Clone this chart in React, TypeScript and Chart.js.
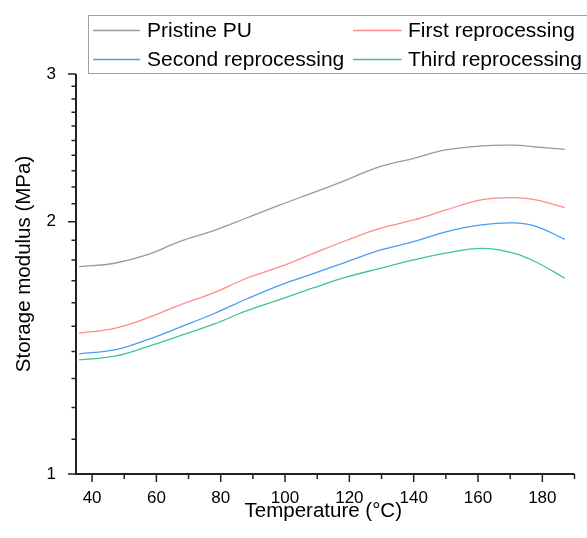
import React, { useEffect, useRef } from "react";
import { Chart, registerables } from "chart.js";

Chart.register(...registerables);

const temps = [36, 47, 57, 67, 78, 88, 98.5, 109, 119, 129.5, 140, 150, 161, 171, 178, 187];
const pristine = [1.767, 1.784, 1.825, 1.892, 1.952, 2.02, 2.094, 2.167, 2.242, 2.326, 2.38, 2.435, 2.462, 2.467, 2.455, 2.439];
const firstRep = [1.472, 1.492, 1.534, 1.589, 1.646, 1.712, 1.767, 1.834, 1.899, 1.963, 2.009, 2.065, 2.123, 2.136, 2.123, 2.078];
const secondRep = [1.391, 1.406, 1.445, 1.495, 1.554, 1.617, 1.68, 1.735, 1.79, 1.849, 1.893, 1.945, 1.982, 1.993, 1.974, 1.905];
const thirdRep = [1.368, 1.382, 1.418, 1.46, 1.51, 1.565, 1.615, 1.668, 1.717, 1.759, 1.8, 1.834, 1.858, 1.834, 1.79, 1.712];

const seriesNames = ["Pristine PU", "First reprocessing", "Second reprocessing", "Third reprocessing"];
const seriesColors = ["#9a9a9a", "#ff8c8c", "#4b9cf0", "#3fc495"];
const seriesValues = [pristine, firstRep, secondRep, thirdRep];

const xMajor = [40, 60, 80, 100, 120, 140, 160, 180];
const xMinor = [50, 70, 90, 110, 130, 150, 170, 190];
const yMajor = [1, 2, 3];
const yMinor = [1.1, 1.2, 1.3, 1.4, 1.5, 1.6, 1.7, 1.8, 1.9, 2.1, 2.2, 2.3, 2.4, 2.5, 2.6, 2.7, 2.8, 2.9];

const xTitle = "Temperature (°C)";
const yTitle = "Storage modulus (MPa)";
const FONT = "Arial, 'Liberation Sans', sans-serif";

const decorPlugin = {
  id: "decor",
  afterDraw(chart: any) {
    const ctx = chart.ctx;
    const xs = chart.scales.x;
    const ys = chart.scales.y;
    const a = chart.chartArea;
    ctx.save();
    ctx.strokeStyle = "#222";
    ctx.lineWidth = 2;
    ctx.beginPath();
    ctx.moveTo(a.left, a.top);
    ctx.lineTo(a.left, a.bottom);
    ctx.moveTo(a.left - 1, a.bottom);
    ctx.lineTo(a.right, a.bottom);
    ctx.stroke();
    ctx.lineWidth = 1.5;
    ctx.beginPath();
    for (const v of yMajor) {
      const p = ys.getPixelForValue(v);
      ctx.moveTo(a.left - 8, p);
      ctx.lineTo(a.left, p);
    }
    for (const v of yMinor) {
      const p = ys.getPixelForValue(v);
      ctx.moveTo(a.left - 4.5, p);
      ctx.lineTo(a.left, p);
    }
    for (const v of xMajor) {
      const p = xs.getPixelForValue(v);
      ctx.moveTo(p, a.bottom);
      ctx.lineTo(p, a.bottom + 8);
    }
    for (const v of xMinor) {
      const p = xs.getPixelForValue(v);
      ctx.moveTo(p, a.bottom);
      ctx.lineTo(p, a.bottom + 5);
    }
    ctx.stroke();
    ctx.fillStyle = "#000";
    ctx.font = `20.5px ${FONT}`;
    ctx.textAlign = "center";
    ctx.textBaseline = "middle";
    ctx.fillText(xTitle, (a.left + a.right) / 2 - 2, 511);
    ctx.save();
    ctx.translate(24, 264);
    ctx.rotate(-Math.PI / 2);
    ctx.fillText(yTitle, 0, 0);
    ctx.restore();
    ctx.strokeStyle = "#a0a0a0";
    ctx.lineWidth = 1;
    ctx.strokeRect(88.5, 15.5, 520, 58);
    const cols = [[93, 140, 147], [353, 401.5, 408]];
    const rows = [30.5, 59.5];
    ctx.font = `21px ${FONT}`;
    ctx.textAlign = "left";
    for (let i = 0; i < seriesNames.length; i++) {
      const c = cols[i % 2];
      const r = rows[Math.floor(i / 2)];
      ctx.strokeStyle = seriesColors[i];
      ctx.lineWidth = 1.3;
      ctx.beginPath();
      ctx.moveTo(c[0], r);
      ctx.lineTo(c[1], r);
      ctx.stroke();
      ctx.fillStyle = "#000";
      ctx.fillText(seriesNames[i], c[2], r + 1);
    }
    ctx.restore();
  },
};

export default function App() {
  const ref = useRef<HTMLCanvasElement>(null);
  useEffect(() => {
    if (!ref.current) return;
    const chart = new Chart(ref.current, {
      type: "line",
      data: {
        datasets: seriesNames.map((name, i) => ({
          label: name,
          data: temps.map((t, j) => ({ x: t, y: seriesValues[i][j] })),
          borderColor: seriesColors[i],
          backgroundColor: seriesColors[i],
          borderWidth: 1.3,
          pointRadius: 0,
          tension: 0.4,
          fill: false,
        })),
      },
      options: {
        animation: false,
        responsive: false,
        maintainAspectRatio: false,
        layout: { padding: { top: 74, right: 12.5, left: 0, bottom: 0 } },
        plugins: { legend: { display: false }, tooltip: { enabled: false }, title: { display: false } },
        scales: {
          x: {
            type: "linear",
            min: 35,
            max: 190,
            grid: { display: false },
            border: { display: false },
            afterBuildTicks: (s: any) => {
              s.ticks = xMajor.map((v) => ({ value: v }));
            },
            afterFit: (s: any) => {
              s.height = 64;
            },
            ticks: {
              padding: 6.5,
              color: "#000",
              font: { family: FONT, size: 17 },
              callback: (v: any) => String(v),
            },
          },
          y: {
            type: "logarithmic",
            min: 1,
            max: 3,
            grid: { display: false },
            border: { display: false },
            afterBuildTicks: (s: any) => {
              s.ticks = yMajor.map((v) => ({ value: v }));
            },
            afterFit: (s: any) => {
              s.width = 76;
            },
            ticks: {
              padding: 12,
              color: "#000",
              font: { family: FONT, size: 17 },
              callback: (v: any) => String(v),
            },
          },
        },
      },
      plugins: [decorPlugin],
    });
    return () => chart.destroy();
  }, []);
  return (
    <div style={{ position: "absolute", left: 0, top: 0, width: 587, height: 538, background: "#fff" }}>
      <canvas ref={ref} width={587} height={538} style={{ display: "block" }} />
    </div>
  );
}
